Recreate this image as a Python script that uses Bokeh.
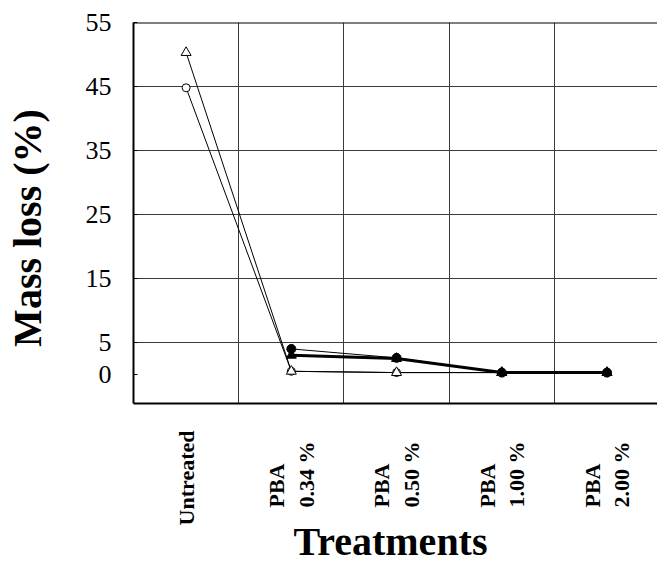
import math
from bokeh.plotting import figure
from bokeh.models import Span, FixedTicker, Range1d
from bokeh.embed import file_html
from bokeh.resources import INLINE

# ---- data ----
categories = ["Untreated", "PBA\n0.34 %", "PBA\n0.50 %", "PBA\n1.00 %", "PBA\n2.00 %"]
open_triangle = [50.3, 0.5, 0.3, 0.3, 0.3]
open_circle = [44.8, 0.5, 0.3, 0.3, 0.3]
filled_circle = [float("nan"), 4.0, 2.6, 0.3, 0.3]
filled_triangle = [float("nan"), 3.0, 2.5, 0.3, 0.3]
y_ticks = [0, 5, 15, 25, 35, 45, 55]
y_grid = [5, 15, 25, 35, 45]

x = list(range(len(categories)))
FONT = "Liberation Serif"
NB = "\u00a0"


def display_label(lab):
    # rotated labels are right-aligned by Bokeh; pad lines so that they
    # appear left-aligned at the bottom like in the reference
    lines = lab.split("\n")
    if len(lines) == 1:
        return lab
    return "\n".join([lines[0] + NB * 6, lines[1] + NB * 2])


p = figure(width=657, height=567, output_backend="svg", toolbar_location=None,
           x_range=Range1d(-0.5, 4.48), y_range=Range1d(-4.53, 55),
           min_border_left=133, min_border_right=0, min_border_top=22,
           min_border_bottom=164)
p.outline_line_color = None
p.background_fill_color = "white"
p.border_fill_color = "white"

# grids
p.ygrid.ticker = FixedTicker(ticks=y_grid)
p.xgrid.ticker = FixedTicker(ticks=[i + 0.5 for i in range(len(categories) - 1)])
for g in (p.xgrid, p.ygrid):
    g.grid_line_color = "#3a3a3a"
    g.grid_line_width = 1

# top border
p.add_layout(Span(location=p.y_range.end, dimension="width", line_color="black", line_width=2))

# y axis
p.yaxis.ticker = FixedTicker(ticks=y_ticks)
p.yaxis.axis_line_width = 2
p.yaxis.axis_line_color = "black"
p.yaxis.major_tick_in = 4
p.yaxis.major_tick_out = 0
p.yaxis.minor_tick_line_color = None
p.yaxis.major_label_standoff = 22
p.yaxis.major_label_text_font = FONT
p.yaxis.major_label_text_font_size = "26px"
p.yaxis.major_label_text_color = "black"
p.yaxis.axis_label = "Mass loss (%)" + NB * 3
p.yaxis.axis_label_standoff = 33
p.yaxis.axis_label_text_font = FONT
p.yaxis.axis_label_text_font_style = "bold"
p.yaxis.axis_label_text_font_size = "40px"
p.yaxis.axis_label_text_color = "black"

# x axis with rotated category labels
p.xaxis.ticker = FixedTicker(ticks=x)
p.xaxis.major_label_overrides = {i: display_label(lab) for i, lab in enumerate(categories)}
p.xaxis.major_label_orientation = math.pi / 2
p.xaxis.major_label_standoff = 21
p.xaxis.major_label_text_font = FONT
p.xaxis.major_label_text_font_style = "bold"
p.xaxis.major_label_text_font_size = "22px"
p.xaxis.major_label_text_color = "black"
p.xaxis.major_label_text_line_height = 1.18
p.xaxis.axis_line_width = 2
p.xaxis.axis_line_color = "black"
p.xaxis.major_tick_line_color = None
p.xaxis.minor_tick_line_color = None
p.xaxis.axis_label = "Treatments" + NB
p.xaxis.axis_label_standoff = -9
p.xaxis.axis_label_text_font = FONT
p.xaxis.axis_label_text_font_style = "bold"
p.xaxis.axis_label_text_font_size = "40px"
p.xaxis.axis_label_text_color = "black"

# series
p.line(x, open_circle, line_color="black", line_width=1)
p.line(x, open_triangle, line_color="black", line_width=1)
p.line(x, filled_circle, line_color="black", line_width=1)
p.line(x, filled_triangle, line_color="black", line_width=3)

p.scatter(x, open_circle, marker="circle", size=8, fill_color="white", line_color="black", line_width=1)
p.scatter(x, open_triangle, marker="triangle", size=10, fill_color="white", line_color="black", line_width=1)
p.scatter(x, filled_triangle, marker="triangle", size=10, fill_color="black", line_color="black")
p.scatter(x, filled_circle, marker="circle", size=9, fill_color="black", line_color="black")

open("out.html", "w").write(file_html(p, INLINE))
